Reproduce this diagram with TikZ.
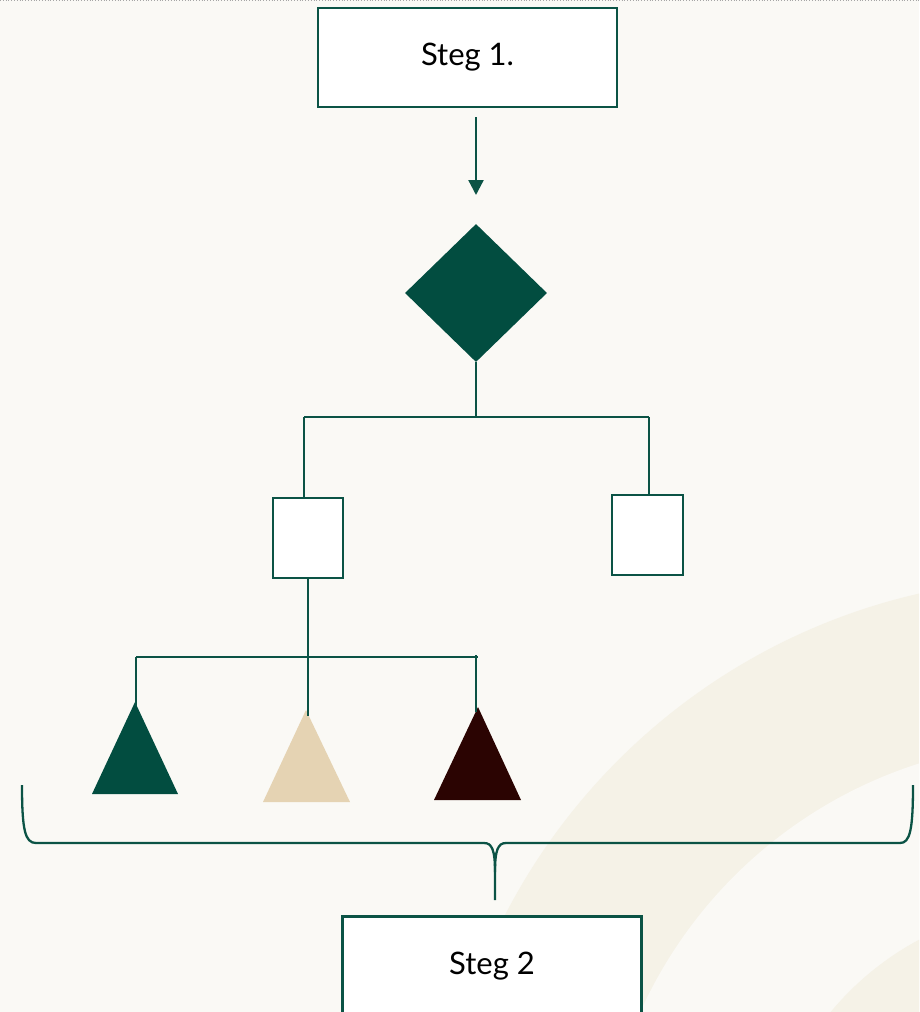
\documentclass[tikz,border=0pt]{standalone}
\usepackage{fontspec}
\setmainfont{Lato}
\usetikzlibrary{shapes.geometric,arrows.meta}
\definecolor{bg}{HTML}{FAF9F5}
\definecolor{band}{HTML}{F5F2E7}
\definecolor{dgreen}{HTML}{024D40}
\definecolor{lgreen}{HTML}{0B5345}
\definecolor{beige}{HTML}{E5D3B3}
\definecolor{dbrown}{HTML}{2B0402}
\tikzset{
  stepbox/.style={draw=lgreen, line width=2.5pt, fill=white, minimum width=299pt, minimum height=99pt, inner sep=0pt},
  steptext/.style={font=\fontsize{31}{36}\selectfont},
  smallbox/.style={draw=lgreen, line width=2.3pt, fill=white, minimum width=70pt, minimum height=80pt, inner sep=0pt},
  conn/.style={draw=lgreen, line width=2.3pt},
}
\begin{document}
\begin{tikzpicture}[x=1pt,y=-1pt]
\useasboundingbox (0,0) rectangle (919,1012);
\clip (0,0) rectangle (919,1012);
% background
\fill[bg] (0,0) rectangle (919,1012);
\fill[band] (1058,1200) circle[radius=622];
\fill[bg] (1058,1200) circle[radius=458];
\fill[band] (1058,1200) circle[radius=295];
\draw[gray!70, dotted, line width=0.8pt] (0,0.5) -- (919,0.5);
% nodes
\node[stepbox, steptext] (s1) at (467.5,57.5) {Steg 1.};
\node[diamond, fill=dgreen, minimum width=142pt, minimum height=138pt, inner sep=0pt] (dia) at (476,293) {};
\node[smallbox] (sqL) at (308,538) {};
\node[smallbox, minimum width=71pt] (sqR) at (647.5,535) {};
\node[stepbox] (s2) at (492,966) {};
\node[steptext] (t2) at (492,966) {Steg 2};
% triangles
\coordinate (tA) at (135,702);
\coordinate (tB) at (306,710);
\coordinate (tC) at (478,707);
\fill[dgreen] (tA) -- (178,794) -- (92,794) -- cycle;
\fill[beige] (tB) -- (350,802) -- (263,802) -- cycle;
\fill[dbrown] (tC) -- (521,800) -- (434,800) -- cycle;
% connectors
\coordinate (a0) at (476,117);
\coordinate (a1) at (476,195);
\draw[conn, -{Triangle[width=15pt,length=15pt]}] (a0) -- (a1);
\coordinate (j1) at (476,417);
\coordinate (hL) at (304,417);
\coordinate (hR) at (649,417);
\draw[conn] (dia.south) -- (j1);
\draw[conn] (hL) -- (hR);
\draw[conn] (hL) -- (hL |- sqL.north);
\draw[conn] (hR) -- (hR |- sqR.north);
\coordinate (bL) at (136,657);
\coordinate (bR) at (478,657);
\draw[conn] (sqL.south) -- (308,716);
\draw[conn] (bL) -- (bR);
\draw[conn] (bL) -- (136,706);
\draw[conn] (476,655) -- (476,712);
% brace
\coordinate (brL) at (22,785);
\coordinate (brR) at (913,785);
\coordinate (brM) at (495,900);
\draw[conn] (brL) .. controls (22,830) and (25,843) .. (36,843) -- (484,843)
   .. controls (492,843) and (495,850) .. (495,872) -- (brM);
\draw[conn] (brR) .. controls (913,830) and (910,843) .. (900,843) -- (506,843)
   .. controls (498,843) and (495,850) .. (495,872);
\end{tikzpicture}
\end{document}
